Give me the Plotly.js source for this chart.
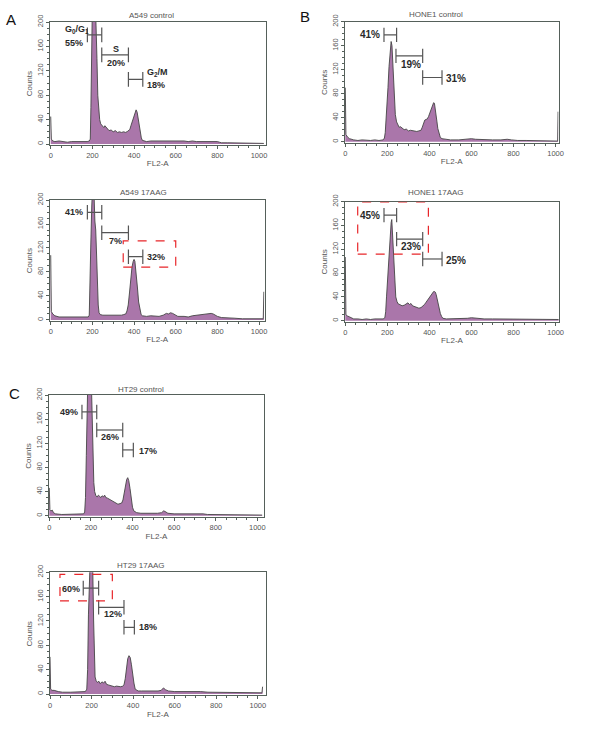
<!DOCTYPE html>
<html><head><meta charset="utf-8">
<script src="https://cdn.plot.ly/plotly-3.0.1.min.js"></script>
<style>html,body{margin:0;padding:0;background:#fff;} #chart{width:600px;height:733px;}</style>
</head><body><div id="chart"></div>
<script>
// ---------------- DATA ----------------
// FL2-A channel values and cell counts for each histogram
const aCtrlX = [0,3,10,20,40,60,80,100,120,140,
  160,175,185,190,193,196,200,205,210,215,
  218,222,226,230,235,240,250,255,260,265,
  270,280,290,300,310,320,330,340,350,360,
  370,380,385,390,395,400,405,410,415,420,
  425,430,435,440,450,460,480,500,520,540,
  560,580,600,620,640,660,680,700,720,740,
  760,780,800,810,820,850,880,920,960,1000,
  1023];
const aCtrlY = [45,8,5,4,5,4,3,4,4,3,
  4,4,5,8,60,160,230,240,240,225,
  200,140,80,52,40,33,28,27,30,28,
  26,22,23,20,22,19,20,19,20,19,
  21,24,30,36,42,48,53,56,52,42,
  30,18,10,6,5,4,5,5,6,5,
  6,6,5,5,5,4,5,4,4,5,
  4,5,4,3,2,2,2,1,1,1,
  1];

const aAagX = [0,3,10,20,40,60,80,100,120,140,
  160,180,185,188,192,197,202,207,212,216,
  220,224,228,232,238,250,260,270,280,290,
  300,310,320,330,340,350,360,366,372,378,
  384,390,396,400,404,410,416,422,428,434,
  440,460,480,500,520,540,555,565,575,585,
  595,610,640,660,680,700,720,740,760,770,
  780,790,800,820,850,880,920,960,1000,1020,
  1023];
const aAagY = [108,14,10,7,5,5,4,4,5,4,
  4,5,8,40,120,190,230,220,165,150,
  110,60,25,12,9,8,8,7,8,7,
  7,8,8,7,8,9,10,15,25,45,
  70,88,98,101,98,80,55,30,15,9,
  7,6,7,7,6,8,11,10,12,11,
  9,6,6,5,7,8,8,9,10,11,
  10,8,6,4,3,3,2,2,2,2,
  47];

const bCtrlX = [0,3,10,20,40,60,80,100,120,140,
  160,180,186,190,194,198,203,208,213,218,
  222,226,230,234,238,244,250,256,262,270,
  280,290,300,310,320,330,340,350,360,366,
  372,378,384,390,396,402,408,414,420,424,
  428,432,436,440,446,452,460,480,500,540,
  580,600,620,660,700,740,770,790,820,860,
  900,950,1000,1010,1012];
const bCtrlY = [90,12,8,5,3,2,3,2,2,3,
  2,3,6,15,35,60,90,125,155,167,
  160,130,95,65,45,33,27,24,25,22,
  20,21,18,19,18,17,17,18,19,24,
  31,36,37,38,42,48,55,61,65,64,
  56,45,33,22,12,7,5,4,3,3,
  4,5,4,3,3,3,4,3,2,2,
  2,1,1,1,50];

const bAagX = [0,3,10,20,40,60,80,100,120,140,
  160,180,188,192,196,200,205,210,214,218,
  221,224,228,232,236,240,246,252,260,270,
  280,290,298,305,312,320,330,340,350,360,
  368,376,384,392,400,408,414,420,424,428,
  432,436,440,446,452,458,464,480,500,540,
  580,600,620,660,700,740,780,820,860,900,
  950,1000,1014];
const bAagY = [107,10,8,6,3,3,2,3,2,3,
  3,3,5,15,40,65,95,120,145,165,
  170,150,110,75,52,40,32,28,27,25,
  26,28,30,27,29,25,24,22,21,22,
  24,27,31,35,38,43,47,49,49,48,
  44,38,28,20,12,7,4,3,3,3,
  4,5,4,3,3,3,3,2,2,2,
  2,2,2];

const cCtrlX = [0,3,8,15,20,30,60,100,140,165,
  170,174,178,182,186,192,198,203,206,210,
  214,218,224,230,236,242,248,254,260,266,
  272,280,290,300,310,320,330,340,348,354,
  360,366,372,377,382,388,394,400,406,412,
  420,440,460,480,500,520,540,550,556,570,
  600,640,680,700,720,740,760,800,850,900,
  950,1000,1023];
const cCtrlY = [46,10,8,9,5,3,2,2,2,3,
  6,30,100,190,240,250,240,210,150,95,
  55,40,33,31,34,32,30,33,31,34,
  30,29,27,25,22,21,19,20,21,26,
  38,52,60,63,58,45,28,14,8,6,
  5,4,4,4,3,4,5,8,7,4,
  3,3,3,4,4,3,2,2,1,1,
  1,1,1];

const cAagX = [0,3,10,20,40,60,100,140,170,177,
  181,185,190,196,202,206,210,213,217,222,
  228,235,242,250,258,265,272,280,290,300,
  310,320,330,340,350,356,362,368,374,380,
  386,392,398,404,410,416,424,440,460,480,
  500,520,535,546,556,570,600,640,680,700,
  711,725,760,800,850,900,950,1000,1020,1023];
const cAagY = [61,8,6,6,4,3,3,3,4,8,
  40,130,220,250,240,200,120,50,28,22,
  19,21,17,20,18,21,16,15,14,13,
  12,13,12,12,13,15,25,42,58,63,
  60,48,30,18,8,6,5,5,5,4,
  4,5,6,10,7,5,4,4,4,4,
  5,4,3,3,3,3,2,2,2,12];

// Gates: [start channel, end channel, count level]
const aCtrlGates = [[176,245,179],[245,373,146],[373,442,106]];
const aAagGates  = [[176,245,179.5],[245,373,145.5],[373,442,105.5]];
const bCtrlGates = [[184,244,178],[241,368,143],[368,460,107]];
const bAagGates  = [[184,244,177.6],[244,368,137],[368,460,103.7]];
const cCtrlGates = [[157,228,172],[228,353,142],[353,404,109]];
const cAagGates  = [[160,234,174],[234,356,142.5],[356,406,109.6]];

// Gate percentages
const aCtrlPct = ['55%','20%','18%'];
const aAagPct  = ['41%','7%','32%'];
const bCtrlPct = ['41%','19%','31%'];
const bAagPct  = ['45%','23%','25%'];
const cCtrlPct = ['49%','26%','17%'];
const cAagPct  = ['60%','12%','18%'];

// Highlight boxes: [x0, x1, y0, y1]
const aAagBox = [348,600,88,132];
const bAagBox = [59,395,112,199.5];
const cAagBox = [48,300,153,196.7];

const panelTitles = ['A549 control','A549 17AAG','HONE1 control','HONE1 17AAG','HT29 control','HT29 17AAG'];
const xTicks = [0,200,400,600,800,1000];
const yTicks = [0,40,80,120,160,200];

// ---------------- LAYOUT ----------------
const W=600,H=733;
const FONT='"Liberation Sans", Arial, sans-serif';
const FILL='rgb(170,118,170)';
const LINE='#454545';
const AX='#55605a';

const panels = [
 {x:aCtrlX,y:aCtrlY,g:aCtrlGates,p:aCtrlPct,L:50,R:265.5,T:22,B:145.3,xr:[-3.4,1031],yr:[-2.1,200],tx:151,ty:15.7,fs:9,
  lab:[{t:'G<sub>0</sub>/G<sub>1</sub>',x:57,y:187,a:'left'},{t:'55%',x:57,y:166,a:'left'},{t:'S',x:313,y:155,a:'center'},{t:'20%',x:313,y:133,a:'center'},{t:'G<sub>2</sub>/M',x:452,y:117,a:'left'},{t:'18%',x:452,y:97,a:'left'}]},
 {x:aAagX,y:aAagY,g:aAagGates,p:aAagPct,L:50,R:264.5,T:200,B:321.3,xr:[-3.4,1026],yr:[-2.2,200],tx:143,ty:193,fs:9,box:aAagBox,
  pos:[{x:165,y:179.5,a:'right'},{x:309,y:132,a:'center'},{x:453,y:105.5,a:'left'}]},
 {x:bCtrlX,y:bCtrlY,g:bCtrlGates,p:bCtrlPct,L:345,R:558.5,T:21.7,B:143,xr:[-1.4,1014],yr:[-2.2,200],tx:436,ty:15,fs:10,
  pos:[{x:173,y:178,a:'right'},{x:311,y:128,a:'center'},{x:469,y:106,a:'left'}]},
 {x:bAagX,y:bAagY,g:bAagGates,p:bAagPct,L:345,R:559,T:201.7,B:322,xr:[-1.4,1016],yr:[-2.2,200],tx:436,ty:193,fs:10,box:bAagBox,
  pos:[{x:175,y:177.6,a:'right'},{x:311,y:124,a:'center'},{x:469,y:102,a:'left'}]},
 {x:cCtrlX,y:cCtrlY,g:cCtrlGates,p:cCtrlPct,L:49,R:264,T:395,B:517,xr:[-1.4,1032],yr:[-2.2,200],tx:141,ty:389,fs:9,
  pos:[{x:148,y:172,a:'right'},{x:292,y:130,a:'center'},{x:420,y:107,a:'left'}]},
 {x:cAagX,y:cAagY,g:cAagGates,p:cAagPct,L:50,R:265.7,T:572.3,B:695.3,xr:[0,1038],yr:[-2.1,200],tx:141,ty:565,fs:9,box:cAagBox,
  pos:[{x:153,y:172.5,a:'right'},{x:305,y:131.5,a:'center'},{x:417,y:110,a:'left'}]}
];

const traces=[], shapes=[], annotations=[];
const layout={width:W,height:H,margin:{l:0,r:0,t:0,b:0},paper_bgcolor:'#fff',plot_bgcolor:'#fff',showlegend:false,font:{family:FONT}};

panels.forEach((P,i)=>{
  const n=i+1, xa=n===1?'x':'x'+n, ya=n===1?'y':'y'+n;
  traces.push({type:'scatter',mode:'lines',x:P.x,y:P.y,xaxis:xa,yaxis:ya,fill:'tozeroy',fillcolor:FILL,
    line:{color:LINE,width:0.9,shape:'linear'},hoverinfo:'skip'});
  const common={showline:true,mirror:true,linecolor:AX,linewidth:1,ticks:'outside',ticklen:3,tickcolor:AX,tickwidth:1,
    showgrid:false,zeroline:false,fixedrange:true,tickfont:{size:7.5,color:'#555',family:FONT}};
  layout[n===1?'xaxis':'xaxis'+n]=Object.assign({},common,{domain:[P.L/W,P.R/W],range:P.xr,anchor:ya,
    tickvals:xTicks,minor:{dtick:50,tick0:0,ticks:'outside',ticklen:2,tickcolor:AX},
    title:{text:'FL2-A',font:{size:8,color:'#555',family:FONT},standoff:1}});
  layout[n===1?'yaxis':'yaxis'+n]=Object.assign({},common,{domain:[1-P.B/H,1-P.T/H],range:P.yr,anchor:xa,
    tickvals:yTicks,tickangle:-90,minor:{dtick:10,tick0:0,ticks:'outside',ticklen:2,tickcolor:AX},
    title:{text:'Counts',font:{size:8,color:'#555',family:FONT},standoff:2}});
  annotations.push({xref:'paper',yref:'paper',x:P.tx/W,y:1-P.ty/H,text:panelTitles[i],showarrow:false,
    font:{size:8,color:'#555',family:FONT},xanchor:'center',yanchor:'middle'});
  const capH=12;
  P.g.forEach(g=>{
    shapes.push({type:'line',xref:xa,yref:ya,x0:g[0],x1:g[1],y0:g[2],y1:g[2],line:{color:'#555',width:1.2}});
    shapes.push({type:'line',xref:xa,yref:ya,x0:g[0],x1:g[0],y0:g[2]-capH,y1:g[2]+capH,line:{color:'#555',width:1.2}});
    shapes.push({type:'line',xref:xa,yref:ya,x0:g[1],x1:g[1],y0:g[2]-capH,y1:g[2]+capH,line:{color:'#555',width:1.2}});
  });
  const tfont={size:P.fs,color:'#2a2a2a',family:FONT,weight:'bold'};
  if(P.lab){
    P.lab.forEach(l=>annotations.push({xref:xa,yref:ya,x:l.x,y:l.y,text:l.t,showarrow:false,xanchor:l.a,yanchor:'middle',font:tfont}));
  } else {
    P.pos.forEach((q,k)=>annotations.push({xref:xa,yref:ya,x:q.x,y:q.y,text:P.p[k],showarrow:false,xanchor:q.a,yanchor:'middle',font:tfont}));
  }
  if(P.box){
    shapes.push({type:'rect',xref:xa,yref:ya,x0:P.box[0],x1:P.box[1],y0:P.box[2],y1:P.box[3],line:{color:'#e8262a',width:1.2,dash:'dash'},fillcolor:'rgba(0,0,0,0)'});
  }
});

[['A',11,20],['B',305,17],['C',14,393]].forEach(l=>annotations.push({xref:'paper',yref:'paper',x:l[1]/W,y:1-l[2]/H,text:l[0],showarrow:false,
  font:{size:15,color:'#111',family:FONT},xanchor:'center',yanchor:'middle'}));

layout.shapes=shapes; layout.annotations=annotations;
Plotly.newPlot('chart',traces,layout,{staticPlot:true,displayModeBar:false});
</script></body></html>
